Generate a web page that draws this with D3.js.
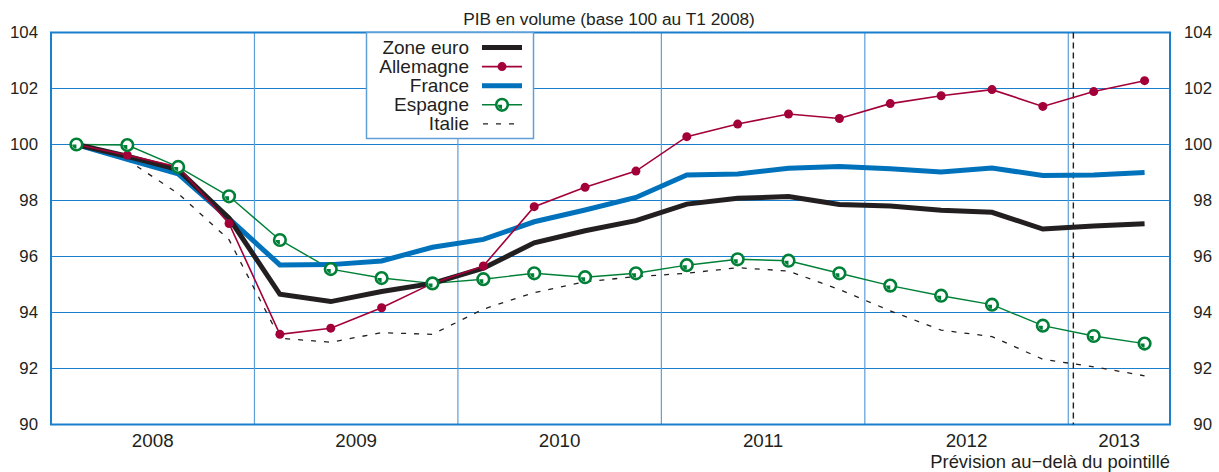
<!DOCTYPE html>
<html><head><meta charset="utf-8">
<script src="https://cdn.jsdelivr.net/npm/d3@7"></script>
<style>
html,body{margin:0;padding:0;background:#fff;}
text{font-family:"Liberation Sans",Arial,Helvetica,sans-serif;fill:#231f20;}
</style></head>
<body><svg id="c" width="1219" height="472"></svg>
<script>
const quarters = d3.range(22); // T1 2008 .. T2 2013
const years = ["2008","2009","2010","2011","2012","2013"];
const yTicks = [90,92,94,96,98,100,102,104];
const zoneEuro = [100,99.58,99.1,97.37,94.65,94.39,94.75,95.04,95.58,96.49,96.92,97.28,97.87,98.08,98.14,97.86,97.8,97.65,97.58,96.98,97.09,97.17];
const allemagne = [100,99.62,99.2,97.18,93.22,93.44,94.17,95.04,95.66,97.78,98.47,99.05,100.28,100.73,101.09,100.93,101.46,101.74,101.96,101.36,101.89,102.28];
const france = [100,99.47,98.95,97.35,95.7,95.71,95.84,96.33,96.61,97.24,97.66,98.11,98.91,98.95,99.15,99.21,99.13,99.02,99.16,98.89,98.91,99.0];
const espagne = [100,99.98,99.2,98.15,96.59,95.55,95.23,95.04,95.19,95.4,95.26,95.4,95.69,95.9,95.85,95.4,94.96,94.6,94.28,93.53,93.16,92.89];
const italie = [100,99.45,98.25,96.6,93.08,92.94,93.28,93.22,94.12,94.71,95.1,95.28,95.4,95.6,95.48,94.82,94.06,93.37,93.14,92.33,92.06,91.74];
const forecastStart = 20.1;
const title = "PIB en volume (base 100 au T1 2008)";
const note = "Prévision au\u2212delà du pointillé";

const svg = d3.select("#c");
const L=51, R=1170, T=32.5, B=424.5;
const x = d3.scaleLinear().domain([0,22]).range([L,R]);
const y = d3.scaleLinear().domain([90,104]).range([B,T]);
const gridBlue="#1a7fcc", yearBlue="#5d9fd6";

// horizontal grid
svg.append("g").selectAll("line").data(yTicks.slice(1,-1)).join("line")
  .attr("x1",L).attr("x2",R).attr("y1",d=>y(d)).attr("y2",d=>y(d))
  .attr("stroke",gridBlue).attr("stroke-width",1.2);
// year lines
const yearBounds = years.map((d,i)=>i*4);
svg.append("g").selectAll("line").data(yearBounds.slice(1)).join("line")
  .attr("x1",d=>x(d)).attr("x2",d=>x(d)).attr("y1",T).attr("y2",B)
  .attr("stroke",yearBlue).attr("stroke-width",1.2);
// frame
svg.append("rect").attr("x",L).attr("y",T).attr("width",R-L).attr("height",B-T)
  .attr("fill","none").attr("stroke",gridBlue).attr("stroke-width",2);

// forecast line
svg.append("line").attr("x1",x(forecastStart)).attr("x2",x(forecastStart))
  .attr("y1",T).attr("y2",B).attr("stroke","#231f20").attr("stroke-width",1.4)
  .attr("stroke-dasharray","6,4");

// axes labels
const yAxisL = d3.axisLeft(y).tickValues(yTicks).tickSize(0).tickPadding(13);
const gl = svg.append("g").attr("transform",`translate(${L},0)`).call(yAxisL);
gl.select(".domain").remove();
gl.selectAll("text").style("font-size","16.8px").attr("fill","#231f20");
const yAxisR = d3.axisRight(y).tickValues(yTicks).tickSize(0).tickPadding(42);
const gr = svg.append("g").attr("transform",`translate(${R},0)`).call(yAxisR);
gr.select(".domain").remove();
gr.selectAll("text").style("font-size","16.8px").attr("fill","#231f20").attr("text-anchor","end");

svg.append("g").selectAll("text").data(years).join("text")
  .attr("x",(d,i)=>x((i*4 + Math.min(i*4+4,22))/2)).attr("y",447)
  .attr("text-anchor","middle").style("font-size","18.8px").text(d=>d);
svg.append("text").attr("x",R).attr("y",468).attr("text-anchor","end")
  .style("font-size","18.4px").text(note);
svg.append("text").attr("x",609).attr("y",25).attr("text-anchor","middle")
  .style("font-size","17.3px").text(title);

// series
const line = d3.line().x((d,i)=>x(quarters[i]+0.5)).y(d=>y(d));
const colors = {ze:"#231f20", de:"#a3003a", fr:"#0072bc", es:"#008037"};

svg.append("path").datum(italie).attr("d",line).attr("fill","none")
  .attr("stroke","#231f20").attr("stroke-width",1.3).attr("stroke-dasharray","5,8");
svg.append("path").datum(espagne).attr("d",line).attr("fill","none")
  .attr("stroke",colors.es).attr("stroke-width",1.4);
svg.append("path").datum(france).attr("d",line).attr("fill","none")
  .attr("stroke",colors.fr).attr("stroke-width",5);
svg.append("path").datum(zoneEuro).attr("d",line).attr("fill","none")
  .attr("stroke",colors.ze).attr("stroke-width",5);
svg.append("path").datum(allemagne).attr("d",line).attr("fill","none")
  .attr("stroke",colors.de).attr("stroke-width",1.6);
svg.append("g").selectAll("circle").data(allemagne).join("circle")
  .attr("cx",(d,i)=>x(quarters[i]+0.5)).attr("cy",d=>y(d)).attr("r",4.5)
  .attr("fill",colors.de);

const wedge = d3.arc().innerRadius(0).outerRadius(4.2).startAngle(Math.PI).endAngle(Math.PI*1.5);
function esMarker(g){
  g.append("circle").attr("r",5.8).attr("fill","#fff").attr("stroke",colors.es).attr("stroke-width",2.6);
  g.append("path").attr("d",wedge()).attr("fill",colors.es);
}
svg.append("g").selectAll("g").data(espagne).join("g")
  .attr("transform",(d,i)=>`translate(${x(quarters[i]+0.5)},${y(d)})`)
  .each(function(){esMarker(d3.select(this));});

// legend
const legendNames = ["Zone euro","Allemagne","France","Espagne","Italie"];
const lg = svg.append("g");
lg.append("rect").attr("x",366.5).attr("y",T).attr("width",167).attr("height",106)
  .attr("fill","#fff").attr("stroke",yearBlue).attr("stroke-width",1.5);
legendNames.forEach((n,i)=>{
  const cy = 47.5 + i*19.1;
  lg.append("text").attr("x",469).attr("y",cy+6.5).attr("text-anchor","end")
    .style("font-size","19px").text(n);
  const ln = lg.append("line").attr("x1",482).attr("x2",522).attr("y1",cy).attr("y2",cy);
  if(i===0) ln.attr("stroke",colors.ze).attr("stroke-width",5);
  if(i===1){ ln.attr("stroke",colors.de).attr("stroke-width",1.6);
    lg.append("circle").attr("cx",502).attr("cy",cy).attr("r",4.5).attr("fill",colors.de);}
  if(i===2) ln.attr("stroke",colors.fr).attr("stroke-width",5);
  if(i===3){ ln.attr("stroke",colors.es).attr("stroke-width",1.4);
    esMarker(lg.append("g").attr("transform",`translate(502,${cy})`));}
  if(i===4) ln.attr("x1",483).attr("stroke","#231f20").attr("stroke-width",1.3).attr("stroke-dasharray","5,8");
});
</script></body></html>
